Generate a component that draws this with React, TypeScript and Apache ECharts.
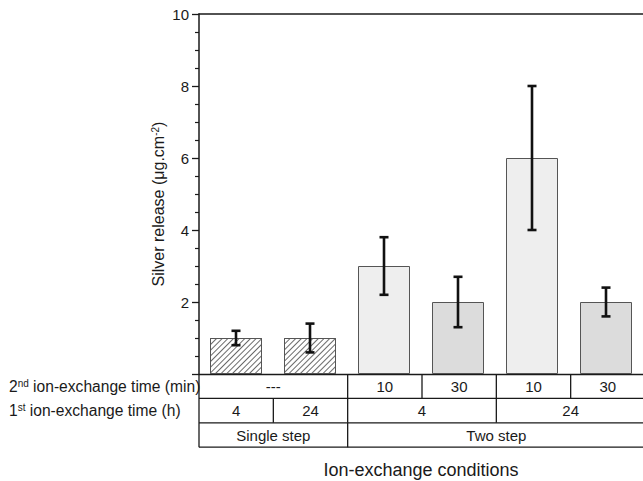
import React, { useEffect, useRef } from "react";
import * as echarts from "echarts";

// ---------- data ----------
const categories = ["Single 4 h", "Single 24 h", "Two 4 h / 10 min", "Two 4 h / 30 min", "Two 24 h / 10 min", "Two 24 h / 30 min"];
const releaseMean = [1.0, 1.0, 3.0, 2.0, 6.0, 2.0];
const errorLow = [0.8, 0.6, 2.2, 1.3, 4.0, 1.6];
const errorHigh = [1.2, 1.4, 3.8, 2.7, 8.0, 2.4];
const yMin = 0;
const yMax = 10;
const yInterval = 2;

// table rows below the plot: label + number of categories spanned
const secondStepTexts = ["---", "10", "30", "10", "30"];
const secondStepSpans = [2, 1, 1, 1, 1];
const firstStepTexts = ["4", "24", "4", "24"];
const firstStepSpans = [1, 1, 2, 2];
const methodTexts = ["Single step", "Two step"];
const methodSpans = [2, 4];

const rowLabel2 = "{a|2}{s|nd}{a| ion-exchange time (min)}";
const rowLabel1 = "{a|1}{s|st}{a| ion-exchange time (h)}";
const yTitle = "{a|Silver release (μg.cm}{s|-2}{a|)}";
const xTitle = "Ion-exchange conditions";

// ---------- layout ----------
const W = 643;
const H = 481;
const GRID_LEFT = 199;
const GRID_TOP = 14;
const GRID_W = 446;
const PLOT_BOTTOM = 374;
const ROW_H = 24.4;
const FONT = "'Liberation Sans', Arial, sans-serif";
const INK = "#1a1a1a";

function barStyle(i: number) {
  if (i < 2) {
    return {
      color: "#ffffff",
      borderColor: "#555555",
      borderWidth: 1,
      decal: {
        symbol: "rect",
        symbolSize: 1,
        color: "#6a6a6a",
        dashArrayX: [1, 0],
        dashArrayY: [1, 3],
        rotation: -Math.PI / 4,
      },
    };
  }
  const light = i % 2 === 0;
  return {
    color: light ? "#eeeeee" : "#dcdcdc",
    borderColor: "#555555",
    borderWidth: 1,
  };
}

function buildTable() {
  const catW = GRID_W / categories.length;
  const els: any[] = [];
  const line = (x1: number, y1: number, x2: number, y2: number) => ({
    type: "line",
    shape: { x1, y1, x2, y2 },
    style: { stroke: INK, lineWidth: 1.3 },
    silent: true,
  });
  const rows = [
    { texts: secondStepTexts, spans: secondStepSpans },
    { texts: firstStepTexts, spans: firstStepSpans },
    { texts: methodTexts, spans: methodSpans },
  ];
  for (let r = 1; r <= rows.length; r++) {
    const y = PLOT_BOTTOM + r * ROW_H;
    els.push(line(GRID_LEFT, y, GRID_LEFT + GRID_W, y));
  }
  els.push(line(GRID_LEFT, PLOT_BOTTOM, GRID_LEFT, PLOT_BOTTOM + rows.length * ROW_H));
  rows.forEach((row, r) => {
    const y0 = PLOT_BOTTOM + r * ROW_H;
    let k = 0;
    row.texts.forEach((t, j) => {
      const k1 = k + row.spans[j];
      const xa = GRID_LEFT + k * catW;
      const xb = GRID_LEFT + k1 * catW;
      els.push(line(xb, y0, xb, y0 + ROW_H));
      els.push({
        type: "text",
        x: (xa + xb) / 2,
        y: y0 + ROW_H / 2,
        silent: true,
        style: {
          text: t,
          fontFamily: FONT,
          fontSize: 15,
          fill: INK,
          align: "center",
          verticalAlign: "middle",
        },
      });
      k = k1;
    });
  });
  const rich = {
    a: { fontFamily: FONT, fontSize: 15.6, fill: INK, color: INK },
    s: { fontFamily: FONT, fontSize: 10, fill: INK, color: INK, verticalAlign: "top" },
  };
  els.push({
    type: "text",
    x: 9,
    y: PLOT_BOTTOM + ROW_H / 2,
    silent: true,
    style: { text: rowLabel2, rich, align: "left", verticalAlign: "middle" },
  });
  els.push({
    type: "text",
    x: 9,
    y: PLOT_BOTTOM + ROW_H * 1.5,
    silent: true,
    style: { text: rowLabel1, rich, align: "left", verticalAlign: "middle" },
  });
  els.push({
    type: "text",
    x: 421,
    y: 470,
    silent: true,
    style: {
      text: xTitle,
      fontFamily: FONT,
      fontSize: 18,
      fill: INK,
      align: "center",
      verticalAlign: "middle",
    },
  });
  els.push({
    type: "text",
    x: 158,
    y: 204,
    rotation: Math.PI / 2,
    silent: true,
    style: {
      text: yTitle,
      rich: {
        a: { fontFamily: FONT, fontSize: 16, fill: INK, color: INK },
        s: { fontFamily: FONT, fontSize: 10, fill: INK, color: INK, verticalAlign: "top" },
      },
      align: "center",
      verticalAlign: "middle",
    },
  });
  return els;
}

export default function App() {
  const ref = useRef<HTMLDivElement>(null);
  useEffect(() => {
    if (!ref.current) return;
    const chart = echarts.init(ref.current, null, { renderer: "svg" });
    const errData = categories.map((_, i) => [i, errorLow[i], errorHigh[i]]);
    chart.setOption({
      animation: false,
      backgroundColor: "#ffffff",
      grid: {
        left: GRID_LEFT,
        top: GRID_TOP,
        width: GRID_W,
        height: PLOT_BOTTOM - GRID_TOP,
        containLabel: false,
      },
      xAxis: [
        {
          type: "category",
          data: categories,
          position: "bottom",
          axisLine: { show: true, lineStyle: { color: INK, width: 1.3 } },
          axisTick: { show: false },
          axisLabel: { show: false },
          splitLine: { show: false },
        },
        {
          type: "category",
          data: categories,
          position: "top",
          axisLine: { show: true, lineStyle: { color: INK, width: 1.5 } },
          axisTick: { show: false },
          axisLabel: { show: false },
          splitLine: { show: false },
        },
      ],
      yAxis: {
        type: "value",
        min: yMin,
        max: yMax,
        interval: yInterval,
        axisLine: { show: true, lineStyle: { color: INK, width: 1.5 } },
        axisTick: { show: true, inside: false, length: 7, lineStyle: { color: INK, width: 1.3 } },
        minorTick: { show: true, splitNumber: 4, length: 4, lineStyle: { color: INK, width: 1.2 } },
        axisLabel: {
          margin: 10,
          fontFamily: FONT,
          fontSize: 15,
          color: INK,
          formatter: (v: number) => (v === 0 ? "" : String(v)),
        },
        splitLine: { show: false },
      },
      series: [
        {
          type: "bar",
          barWidth: 52,
          data: releaseMean.map((v, i) => ({ value: v, itemStyle: barStyle(i) })),
          z: 2,
        },
        {
          type: "custom",
          z: 5,
          data: errData,
          encode: { x: 0, y: [1, 2] },
          renderItem: (params: any, api: any) => {
            const x = api.value(0);
            const lo = api.coord([x, api.value(1)]);
            const hi = api.coord([x, api.value(2)]);
            const cap = 4.5;
            const style = { stroke: "#111111", lineWidth: 2.6 };
            return {
              type: "group",
              children: [
                { type: "line", shape: { x1: lo[0], y1: lo[1], x2: hi[0], y2: hi[1] }, style },
                { type: "line", shape: { x1: hi[0] - cap, y1: hi[1], x2: hi[0] + cap, y2: hi[1] }, style },
                { type: "line", shape: { x1: lo[0] - cap, y1: lo[1], x2: lo[0] + cap, y2: lo[1] }, style },
              ],
            };
          },
        },
      ],
      graphic: buildTable(),
    });
    return () => chart.dispose();
  }, []);
  return (
    <div
      ref={ref}
      style={{ position: "absolute", left: 0, top: 0, width: W, height: H, background: "#fff" }}
    />
  );
}
